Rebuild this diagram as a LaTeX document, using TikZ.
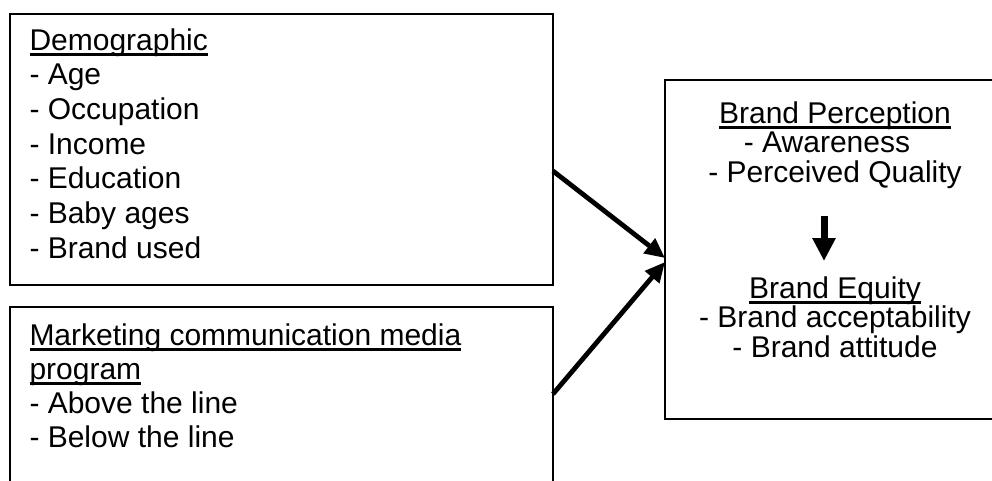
\documentclass[tikz,border=0pt]{standalone}
\usepackage{fontspec}
\setmainfont{Liberation Sans}
\usetikzlibrary{arrows.meta}
\newlength\myulwd
\newcommand\myul[1]{\settowidth\myulwd{#1}\rlap{\rule[-5.5pt]{\myulwd}{2.8pt}}#1}
\begin{document}
\begin{tikzpicture}[x=1pt,y=-1pt,
  box/.style={draw, line width=2pt, rectangle, inner sep=0pt, outer sep=0pt, anchor=north west},
  txtl/.style={inner sep=0pt, outer sep=0pt, align=left, anchor=north west},
  txtc/.style={inner sep=0pt, outer sep=0pt, align=center, anchor=north},
  arr/.style={line width=4.8pt, -{Triangle[length=20pt,width=18pt]}},
  darr/.style={line width=7pt, -{Triangle[length=23pt,width=22pt]}}]
\useasboundingbox (0,0) rectangle (992,481);
\clip (0,0) rectangle (992,481);
\fill[white] (0,0) rectangle (992,481);
% boxes
\node[box, minimum width=543pt, minimum height=271pt] (demo) at (10,14) {};
\node[box, minimum width=543pt, minimum height=200pt] (mkt) at (10,307) {};
\node[box, minimum width=340pt, minimum height=339pt] (brand) at (665,80) {};
% texts
\node[txtl, font=\fontsize{30pt}{34.7pt}\selectfont] (demotxt) at (29.5,25)
  {\rule{0pt}{25pt}\myul{Demographic}\\- Age\\- Occupation\\- Income\\- Education\\- Baby ages\\- Brand used};
\node[txtl, font=\fontsize{30pt}{34pt}\selectfont] (mkttxt) at (29.5,320)
  {\rule{0pt}{25pt}\myul{Marketing communication media}\\\myul{program}\\- Above the line\\- Below the line};
\node[txtc, font=\fontsize{30pt}{29.7pt}\selectfont] (bp) at (835,98)
  {\rule{0pt}{25pt}\myul{Brand Perception}\\- Awareness\rule{16pt}{0pt}\\- Perceived Quality};
\node[txtc, font=\fontsize{30pt}{29.7pt}\selectfont] (be) at (835,273)
  {\rule{0pt}{25pt}\myul{Brand Equity}\\- Brand acceptability\\- Brand attitude};
% connectors
\draw[arr] ([yshift=-21.5pt]demo.east) -- ([yshift=-8.5pt]brand.west);
\draw[arr] ([yshift=13pt]mkt.east) -- ([yshift=-12.5pt]brand.west);
\draw[darr, shorten <=27.7pt, shorten >=12pt] ([xshift=-11pt]bp.south) -- ([xshift=-11pt]be.north);
\end{tikzpicture}
\end{document}
